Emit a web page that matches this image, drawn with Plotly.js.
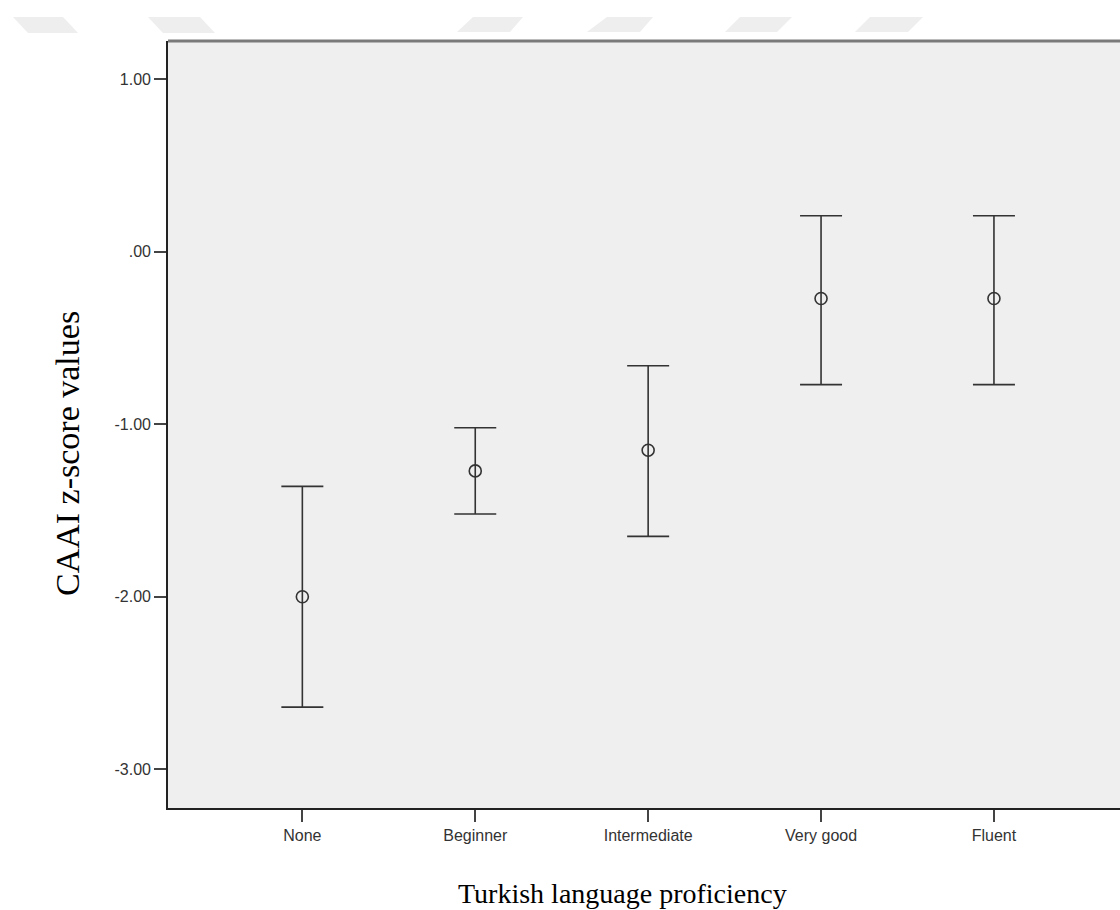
<!DOCTYPE html>
<html>
<head>
<meta charset="utf-8">
<script src="https://cdn.plot.ly/plotly-3.0.1.min.js"></script>
<style>
  html, body { margin: 0; padding: 0; background: #ffffff; }
  #chart { width: 1120px; height: 910px; }
</style>
</head>
<body>
<div id="chart"></div>
<script>
// ---- data ----
const categories = ["None", "Beginner", "Intermediate", "Very good", "Fluent"];
const meanValues = [-2.00, -1.27, -1.15, -0.27, -0.27];
const upperCI    = [-1.36, -1.02, -0.66, 0.21, 0.21];
const lowerCI    = [-2.64, -1.52, -1.65, -0.77, -0.77];
const yTickValues = [1, 0, -1, -2, -3];
const yTickLabels = ["1.00", ".00", "-1.00", "-2.00", "-3.00"];
const xTitle = "Turkish language proficiency";
const yTitle = "CAAI z-score values";

// ---- layout geometry ----
const W = 1120, H = 910;
const M = { l: 168, r: 0, t: 41, b: 102 };
const plotW = W - M.l - M.r, plotH = H - M.t - M.b;
function px2paperX(px) { return (px - M.l) / plotW; }
function px2paperY(py) { return (H - M.b - py) / plotH; }
function polyPath(pts) {
  return pts.map((p, i) => (i ? "L" : "M") + px2paperX(p[0]).toFixed(5) + "," + px2paperY(p[1]).toFixed(5)).join(" ") + " Z";
}

const errPlus = upperCI.map((u, i) => u - meanValues[i]);
const errMinus = meanValues.map((m, i) => m - lowerCI[i]);

const trace = {
  type: "scatter",
  mode: "markers",
  x: categories,
  y: meanValues,
  marker: { symbol: "circle-open", size: 12, color: "#333333", line: { width: 1.6, color: "#333333" } },
  error_y: {
    type: "data",
    symmetric: false,
    array: errPlus,
    arrayminus: errMinus,
    color: "#333333",
    thickness: 1.6,
    width: 21
  },
  hoverinfo: "x+y",
  showlegend: false
};

// faint watermark parallelograms at the top of the page
const wm = "#eeeeee";
const watermarkShapes = [
  [[13, 17], [63, 17], [78, 33], [28, 33]],
  [[148, 17], [200, 17], [215, 33], [163, 33]],
  [[473, 17], [523, 17], [510, 32], [457, 32]],
  [[607, 17], [653, 17], [640, 32], [587, 32]],
  [[740, 17], [792, 17], [777, 32], [725, 32]],
  [[870, 17], [923, 17], [908, 32], [855, 32]]
].map(pts => ({
  type: "path", xref: "paper", yref: "paper", layer: "below",
  path: polyPath(pts), fillcolor: wm, line: { width: 0 }
}));

const layout = {
  width: W,
  height: H,
  margin: M,
  paper_bgcolor: "#ffffff",
  plot_bgcolor: "#efefef",
  font: { family: "Liberation Sans, Arial, sans-serif", color: "#333333" },
  showlegend: false,
  xaxis: {
    type: "category",
    range: [-0.777, 4.729],
    showgrid: false,
    zeroline: false,
    showline: true,
    linecolor: "#222222",
    linewidth: 1.6,
    mirror: false,
    ticks: "outside",
    ticklen: 12,
    tickwidth: 1.6,
    tickcolor: "#444444",
    tickfont: { family: "Liberation Sans, Arial, sans-serif", size: 16, color: "#333333" },
    fixedrange: true
  },
  yaxis: {
    range: [-3.225, 1.223],
    tickmode: "array",
    tickvals: yTickValues,
    ticktext: yTickLabels,
    showgrid: false,
    zeroline: false,
    showline: true,
    linecolor: "#222222",
    linewidth: 1.6,
    mirror: false,
    ticks: "outside",
    ticklen: 12,
    tickwidth: 1.6,
    tickcolor: "#444444",
    tickfont: { family: "Liberation Sans, Arial, sans-serif", size: 16, color: "#333333" },
    fixedrange: true
  },
  shapes: watermarkShapes.concat([
    { type: "line", xref: "paper", yref: "paper", x0: 0, x1: 1, y0: 1, y1: 1,
      line: { color: "#7a7a7a", width: 3 } }
  ]),
  annotations: [
    { text: xTitle, xref: "paper", yref: "paper",
      x: px2paperX(622), y: px2paperY(893), xanchor: "center", yanchor: "middle",
      showarrow: false, font: { family: "Liberation Serif, Times New Roman, serif", size: 28, color: "#000000" } },
    { text: yTitle, xref: "paper", yref: "paper",
      x: px2paperX(67), y: px2paperY(454), xanchor: "center", yanchor: "middle", textangle: -90,
      showarrow: false, font: { family: "Liberation Serif, Times New Roman, serif", size: 34, color: "#000000" } }
  ]
};

Plotly.newPlot("chart", [trace], layout, { displayModeBar: false, staticPlot: false });
</script>
</body>
</html>
